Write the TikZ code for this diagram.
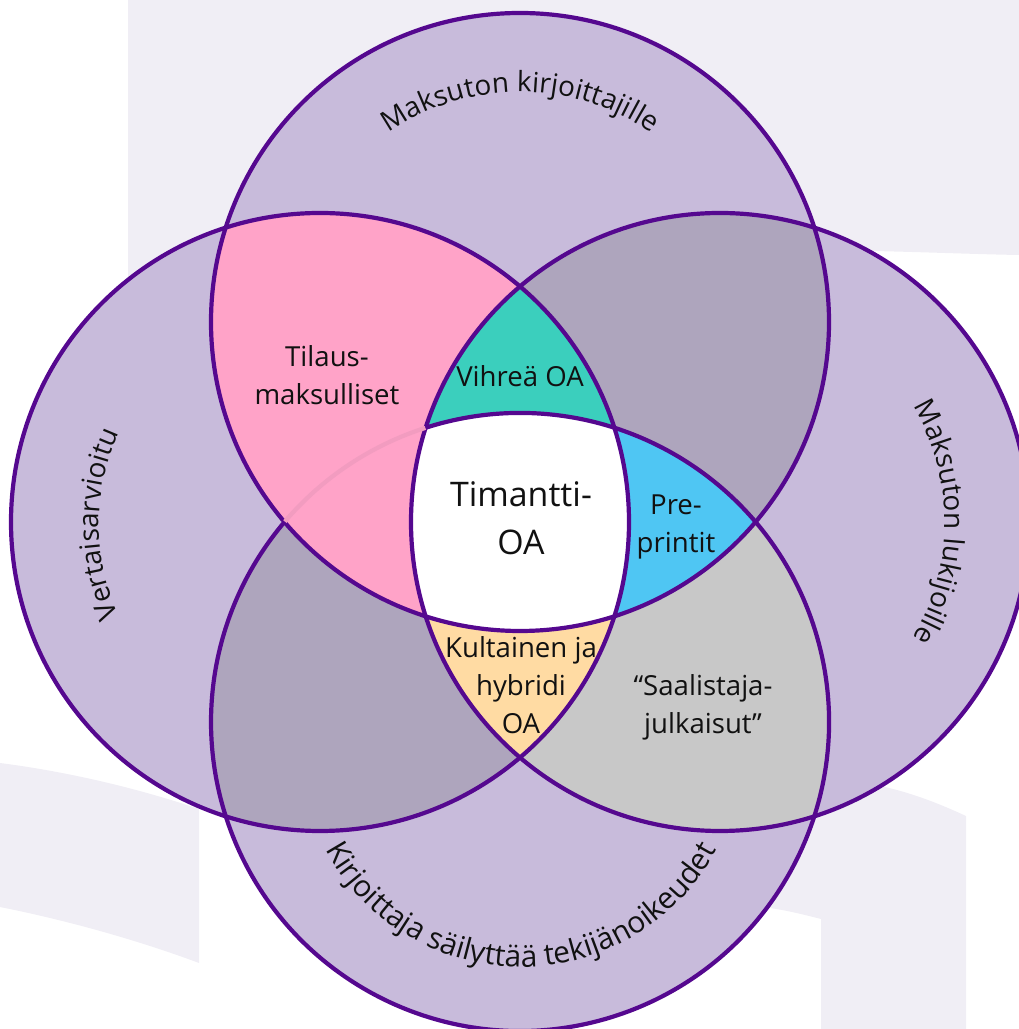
\documentclass[tikz,border=0pt]{standalone}
\usepackage{fontspec}
\setmainfont{Open Sans}
\usetikzlibrary{decorations.text}
\definecolor{bgp}{HTML}{F0EEF5}
\definecolor{base}{HTML}{C8BBDB}
\definecolor{dark}{HTML}{AEA5BD}
\definecolor{pinkr}{HTML}{FFA3C8}
\definecolor{fainta}{HTML}{F29CC0}
\definecolor{greyr}{HTML}{C8C8C8}
\definecolor{greenr}{HTML}{3BCFBD}
\definecolor{bluer}{HTML}{4FC6F3}
\definecolor{peachr}{HTML}{FFDBA3}
\definecolor{edge}{HTML}{55088F}
\definecolor{ink}{HTML}{111111}
\newcommand{\curvefont}{\fontsize{28}{32}\selectfont\color{ink}}
\newcommand{\curvefontb}{\fontsize{30}{34}\selectfont\color{ink}}
\tikzset{
  x=1bp,y=1bp,
  outline/.style={draw=edge,line width=4.2bp},
  label/.style={align=center,text=ink,font=\fontsize{27.7}{38}\selectfont,inner sep=0pt},
  curved/.style={decorate,decoration={text along path,text align=center,text={#1}}}
}
\newcommand{\Ctop}{(520,707) circle[radius=309]}
\newcommand{\Cbot}{(520,307) circle[radius=309]}
\newcommand{\Cleft}{(320,507) circle[radius=309]}
\newcommand{\Cright}{(720,507) circle[radius=309]}
\begin{document}
\begin{tikzpicture}
\useasboundingbox (0,0) rectangle (1019,1029);
% pale backdrop
\fill[bgp] (128,1029) -- (128,700) -- (520,760) .. controls (700,790) and (900,776) .. (1019,774) -- (1019,1029) -- cycle;
\fill[bgp] (0,266) .. controls (70,257) and (140,240) .. (199,220) -- (199,66) .. controls (140,88) and (70,108) .. (0,122) -- cycle;
\fill[bgp] (966,213) .. controls (940,225) and (915,235) .. (885,242) -- (800,260) -- (770,121) .. controls (790,118) and (805,114) .. (821,110) -- (821,0) -- (966,0) -- cycle;
% circles
\fill[base] \Ctop; \fill[base] \Cbot; \fill[base] \Cleft; \fill[base] \Cright;
% pairs
\begin{scope}\clip \Ctop; \fill[dark] \Cright; \end{scope}
\begin{scope}\clip \Cbot; \fill[dark] \Cleft; \end{scope}
\begin{scope}\clip \Ctop; \fill[pinkr] \Cleft; \end{scope}
\begin{scope}\clip \Cbot; \fill[greyr] \Cright; \end{scope}
% triples
\begin{scope}\clip \Ctop; \clip \Cleft; \fill[greenr] \Cright; \end{scope}
\begin{scope}\clip \Ctop; \clip \Cbot; \fill[bluer] \Cright; \end{scope}
\begin{scope}\clip \Cleft; \clip \Cbot; \fill[peachr] \Cright; \end{scope}
% centre
\begin{scope}\clip \Ctop; \clip \Cbot; \clip \Cleft; \fill[white] \Cright; \end{scope}
% outlines
\draw[outline] \Ctop; \draw[outline] \Cleft; \draw[outline] \Cright;
\draw[fainta,line width=4.2bp] (520,307) ++(139.6:309) arc[start angle=139.6,end angle=107.8,radius=309];
\draw[outline] (520,307) ++(107.8:309) arc[start angle=107.8,end angle=-220.4,radius=309];
% region labels
\node[label] (tilaus) at (327,654) {Tilaus-\\maksulliset};
\node[label] (vihrea) at (520,653) {Vihreä OA};
\node[label,font=\fontsize{34}{48}\selectfont] (timantti) at (521,511) {Timantti-\\OA};
\node[label] (pre) at (676,502) {Pre-\\printit};
\node[label] (kultainen) at (521,344) {Kultainen ja\\hybridi\\OA};
\node[label] (saal) at (703,322) {“Saalistaja-\\julkaisut”};
% circle labels
\path[curved={|\curvefont|Maksuton kirjoittajille}] (520,707) ++(150:230) arc[start angle=150,end angle=30,radius=230];
\path[curved={|\curvefont|Vertaisarvioitu}] (316,505) ++(215:217) arc[start angle=215,end angle=145,radius=217];
\path[curved={|\curvefont|Maksuton lukijoille}] (720,507) ++(45:225) arc[start angle=45,end angle=-45,radius=225];
\path[curved={|\curvefontb|Kirjoittaja säilyttää tekijänoikeudet}] (521,284) ++(170:222) arc[start angle=170,end angle=370,radius=222];
\end{tikzpicture}
\end{document}
